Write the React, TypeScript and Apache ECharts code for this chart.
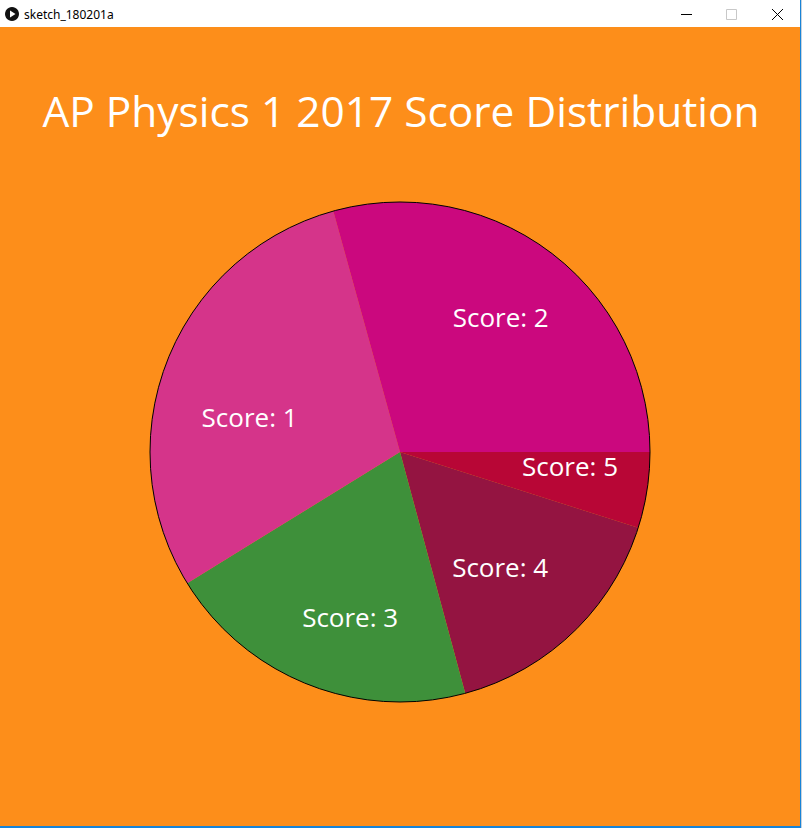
import React, { useEffect, useRef } from "react";
import * as echarts from "echarts";

const titleText = "AP Physics 1 2017 Score Distribution";
const windowTitle = "sketch_180201a";
const categories = ["Score: 5", "Score: 4", "Score: 3", "Score: 1", "Score: 2"];
const percents = [4.9, 15.9, 20.4, 29.5, 29.3];
const sliceColors = ["#B80636", "#941441", "#3E903A", "#D5348A", "#CB087E"];
const labelOffsets = [
  [4, -12],
  [-16, -6],
  [12, 9],
  [6, 26],
  [-1, -1],
];

const BG = "#FD8E1A";
const FONT = "'Open Sans', sans-serif";

export default function App() {
  const ref = useRef<HTMLDivElement>(null);
  useEffect(() => {
    document.body.style.margin = "0";
    const chart = echarts.init(ref.current!, null, { renderer: "svg" });
    const data = categories.map((name, i) => ({
      name,
      value: percents[i],
      itemStyle: { color: sliceColors[i] },
    }));
    const center = [400, 452];
    chart.setOption({
      animation: false,
      backgroundColor: BG,
      title: {
        text: titleText,
        left: "center",
        top: 84,
        textStyle: { color: "#fff", fontSize: 42.4, fontWeight: "normal", fontFamily: FONT },
      },
      polar: { center, radius: 250 },
      angleAxis: {
        type: "value",
        min: 0,
        max: 100,
        z: 10,
        axisLine: { show: true, lineStyle: { color: "#000", width: 1 } },
        axisTick: { show: false },
        axisLabel: { show: false },
        splitLine: { show: false },
      },
      radiusAxis: { show: false, type: "value", min: 0, max: 1 },
      series: [
        {
          type: "pie",
          center,
          radius: [0, 250],
          startAngle: 0,
          clockwise: true,
          silent: true,
          label: { show: false },
          labelLine: { show: false },
          itemStyle: { borderWidth: 0 },
          data,
        },
        {
          type: "pie",
          center,
          radius: [0, 330],
          startAngle: 0,
          clockwise: true,
          silent: true,
          z: 20,
          itemStyle: { color: "transparent", borderWidth: 0 },
          labelLine: { show: false },
          label: {
            show: true,
            position: "inside",
            rotate: 0,
            overflow: "none",
            color: "#fff",
            fontSize: 26,
            fontFamily: FONT,
            formatter: "{b}",
          },
          labelLayout: (p: any) => ({ dx: labelOffsets[p.dataIndex][0], dy: labelOffsets[p.dataIndex][1] }),
          data: categories.map((name, i) => ({ name, value: percents[i] })),
        },
      ],
      graphic: [
        { type: "rect", shape: { x: 0, y: 0, width: 802, height: 27 }, style: { fill: "#fff" }, z: 100 },
        { type: "circle", shape: { cx: 12, cy: 14, r: 7 }, style: { fill: "#111" }, z: 101 },
        { type: "polygon", shape: { points: [[10, 10.5], [10, 17.5], [15.5, 14]] }, style: { fill: "#fff" }, z: 102 },
        {
          type: "text",
          x: 24,
          y: 14,
          style: { text: windowTitle, fill: "#000", font: "12px 'Noto Sans', sans-serif", verticalAlign: "middle" },
          z: 101,
        },
        { type: "line", shape: { x1: 681, y1: 14.5, x2: 692, y2: 14.5 }, style: { stroke: "#000", lineWidth: 1 }, z: 101 },
        { type: "rect", shape: { x: 726.5, y: 9.5, width: 10, height: 10 }, style: { fill: "none", stroke: "#c8c8c8", lineWidth: 1 }, z: 101 },
        { type: "line", shape: { x1: 772, y1: 9, x2: 783, y2: 20 }, style: { stroke: "#000", lineWidth: 1 }, z: 101 },
        { type: "line", shape: { x1: 783, y1: 9, x2: 772, y2: 20 }, style: { stroke: "#000", lineWidth: 1 }, z: 101 },
        { type: "rect", shape: { x: 800, y: 0, width: 1, height: 828 }, style: { fill: "#1883D7" }, z: 101 },
        { type: "rect", shape: { x: 801, y: 0, width: 1, height: 828 }, style: { fill: "#c9d3dc" }, z: 101 },
        { type: "rect", shape: { x: 0, y: 826, width: 801, height: 2 }, style: { fill: "#1883D7" }, z: 101 },
      ],
    });
    return () => chart.dispose();
  }, []);
  return <div ref={ref} style={{ position: "fixed", left: 0, top: 0, width: 802, height: 828 }} />;
}
